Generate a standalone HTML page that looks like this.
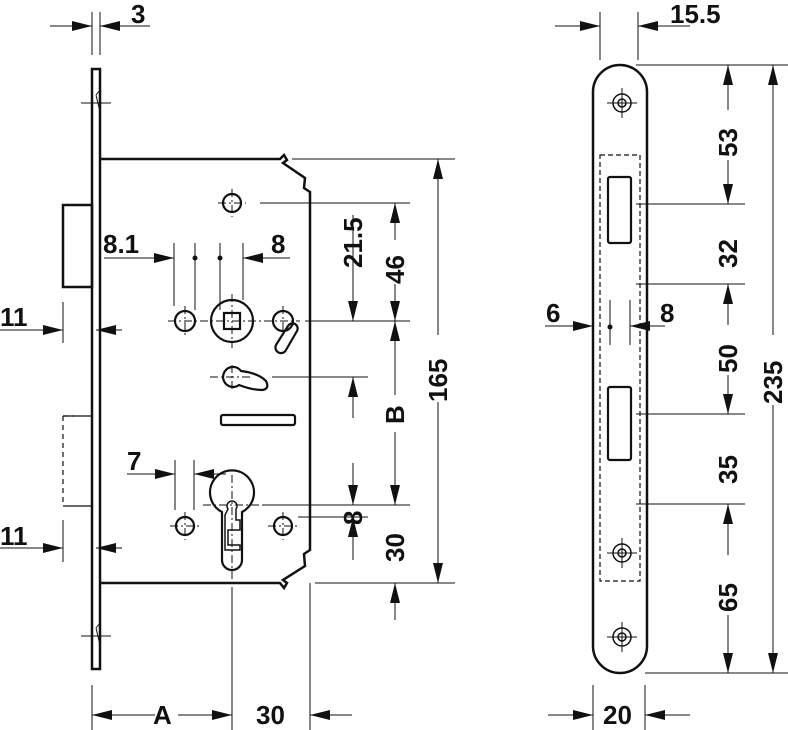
<!DOCTYPE html>
<html><head><meta charset="utf-8"><style>
html,body{margin:0;padding:0;background:#fff}
svg{display:block}
text{font-family:"Liberation Sans",sans-serif;font-weight:bold;font-size:26px;fill:#111}
</style></head><body>
<svg width="788" height="730" viewBox="0 0 788 730" xmlns="http://www.w3.org/2000/svg">
<defs>
<marker id="a" viewBox="0 0 20 10" refX="20" refY="5" markerWidth="20" markerHeight="10" markerUnits="userSpaceOnUse" orient="auto-start-reverse"><path d="M0,0 L20,5 L0,10 z" fill="#111"/></marker>
</defs>
<g stroke="#111" fill="none">
<rect x="92" y="69" width="8" height="600" stroke-width="2.5"/>
<path d="M81,103 H111 M81,636 H111" stroke-width="1"/>
<path d="M96,95 L100,90 M96,95 L100,112 M96,628 L100,623 M96,628 L100,645" stroke-width="1"/>
<rect x="63" y="205" width="29" height="82" stroke-width="2.5"/>
<path d="M100,159 H280 L284,155 L287,160 L283,163 L305,178 L304,188 L310,192 V550 L304,554 L305,566 L283,580 L287,583 L284,588 L280,583 H100" stroke-width="2.5"/>
<path d="M63,416 H92 M63,506 H92" stroke-width="1.2"/>
<path d="M63,416 V506 M63,416 H74" stroke-width="1.2" stroke-dasharray="5,4"/>
<g stroke-width="2.2">
<circle cx="232" cy="203" r="9"/>
<circle cx="185" cy="321" r="10"/>
<circle cx="283" cy="321" r="10"/>
<circle cx="232" cy="321" r="21"/>
<rect x="224" y="313" width="16" height="16"/>
<circle cx="185" cy="526" r="9"/>
<circle cx="283" cy="526" r="9"/>
<path d="M232,367 A10,10 0 1 0 239,385 Q252,390 262,390 Q270,389 266,381 Q258,373 241,371 A10,10 0 0 0 232,367 Z"/>
<path d="M276,345 L288,326 a5,5 0 0 1 9,5 L286,350 a5,5 0 0 1 -10,-5z"/>
<rect x="221" y="415" width="74" height="10" rx="2"/>
<path d="M222,512 a22,22 0 1 1 20,0 V560 a10,10 0 0 1 -20,0z"/>
<path d="M228,509 a5,5 0 1 1 8,0 V520 H240 V530 H228 V545 H240 V550 H225 V515z" stroke-width="1.5"/>
</g>
<g stroke-width="1" stroke-dasharray="8,3,2,3">
<path d="M218,203 H246 M232,189 V217"/>
<path d="M168,321 H300 M185,306 V336 M283,306 V336 M232,294 V348"/>
<path d="M210,377 H250 M232,365 V392"/>
<path d="M203,505 H262 M232,475 V600"/>
<path d="M170,526 H200 M185,512 V540 M268,526 H298 M283,512 V540"/>
</g>
<g stroke-width="1">
<path d="M92,12 V55 M100,12 V55"/>
<path d="M50,26 H92" marker-end="url(#a)"/><path d="M150,26 H100" marker-end="url(#a)"/>
<path d="M63,302 V343 M63,520 V562"/>
<path d="M0,330 H63" marker-end="url(#a)"/><path d="M122,330 H96" marker-end="url(#a)"/>
<path d="M0,548 H63" marker-end="url(#a)"/><path d="M122,548 H96" marker-end="url(#a)"/>
<path d="M174,243 V306 M195,243 V310 M220,243 V310 M243,243 V300"/>
<path d="M104,258 H174" marker-end="url(#a)"/><path d="M290,258 H243" marker-end="url(#a)"/>
<path d="M175,460 V510 M194,460 V510"/>
<path d="M127,474 H175" marker-end="url(#a)"/><path d="M226,474 H194" marker-end="url(#a)"/>
<path d="M292,159 H455 M260,203 H410 M305,321 H410 M272,377 H368 M262,505 H410 M298,517 H368 M315,583 H455"/>
<path d="M353,215 V321" marker-end="url(#a)"/>
<path d="M353,418 V377" marker-end="url(#a)"/>
<path d="M353,463 V505" marker-end="url(#a)"/>
<path d="M353,560 V517" marker-end="url(#a)"/>
<path d="M395,240 V203" marker-end="url(#a)"/><path d="M395,284 V321" marker-end="url(#a)"/>
<path d="M395,395 V321" marker-end="url(#a)"/><path d="M395,432 V505" marker-end="url(#a)"/>
<path d="M395,620 V583" marker-end="url(#a)"/>
<path d="M438,335 V159" marker-end="url(#a)"/><path d="M438,402 V583" marker-end="url(#a)"/>
<path d="M92,685 V730 M232,590 V730 M310,583 V730"/>
<path d="M155,715 H92" marker-end="url(#a)"/><path d="M178,715 H232" marker-end="url(#a)"/>
<path d="M352,715 H310" marker-end="url(#a)"/>
</g>
<circle cx="195" cy="258" r="2.5" fill="#111" stroke="none"/>
<circle cx="220" cy="258" r="2.5" fill="#111" stroke="none"/>

<rect x="593" y="65" width="54" height="608" rx="27" stroke-width="2.5"/>
<rect x="600" y="155" width="40" height="426" stroke-width="1.2" stroke-dasharray="5,3"/>
<rect x="608" y="177" width="23" height="66" rx="2" stroke-width="2.2"/>
<rect x="608" y="387" width="23" height="73" rx="2" stroke-width="2.2"/>
<g stroke-width="1.5">
<circle cx="622" cy="103" r="9"/><circle cx="622" cy="103" r="4"/>
<circle cx="622" cy="553" r="9"/><circle cx="622" cy="553" r="4"/>
<circle cx="622" cy="637" r="9"/><circle cx="622" cy="637" r="4"/>
</g>
<g stroke-width="1">
<path d="M607,103 H637 M622,88 V118 M607,553 H637 M622,538 V568 M607,637 H637 M622,622 V652"/>
<path d="M600,12 V60 M638,12 V60"/>
<path d="M555,26 H600" marker-end="url(#a)"/><path d="M690,26 H638" marker-end="url(#a)"/>
<path d="M610,300 V345 M630,300 V345"/>
<path d="M545,326 H593" marker-end="url(#a)"/><path d="M665,326 H630" marker-end="url(#a)"/>
<path d="M636,65 H788 M636,204 H745 M636,284 H745 M636,414 H745 M636,504 H745 M645,673 H788"/>
<path d="M728,110 V65" marker-end="url(#a)"/><path d="M728,160 V204" marker-end="url(#a)"/>
<path d="M728,325 V284" marker-end="url(#a)"/><path d="M728,375 V414" marker-end="url(#a)"/>
<path d="M728,555 V504" marker-end="url(#a)"/><path d="M728,615 V673" marker-end="url(#a)"/>
<path d="M773,335 V65" marker-end="url(#a)"/><path d="M773,405 V673" marker-end="url(#a)"/>
<path d="M593,685 V730 M645,685 V730"/>
<path d="M548,715 H593" marker-end="url(#a)"/><path d="M690,715 H645" marker-end="url(#a)"/>
</g>
<circle cx="610" cy="327" r="2.5" fill="#111" stroke="none"/>
</g>
<text x="131" y="23">3</text>
<text x="103" y="253">8.1</text>
<text x="271" y="253">8</text>
<text x="127" y="470">7</text>
<text x="0" y="326">11</text>
<text x="0" y="545">11</text>
<text x="153" y="724">A</text>
<text x="256" y="724">30</text>
<text x="603" y="724">20</text>
<text x="670" y="23">15.5</text>
<text x="546" y="322">6</text>
<text x="660" y="322">8</text>
<g>
<text transform="translate(362,268) rotate(-90)">21.5</text>
<text transform="translate(404,284) rotate(-90)">46</text>
<text transform="translate(404,424) rotate(-90)">B</text>
<text transform="translate(362,525) rotate(-90)">8</text>
<text transform="translate(404,562) rotate(-90)">30</text>
<text transform="translate(447,402) rotate(-90)">165</text>
<text transform="translate(737,157) rotate(-90)">53</text>
<text transform="translate(737,268) rotate(-90)">32</text>
<text transform="translate(737,373) rotate(-90)">50</text>
<text transform="translate(737,484) rotate(-90)">35</text>
<text transform="translate(737,612) rotate(-90)">65</text>
<text transform="translate(782,404) rotate(-90)">235</text>
</g>
</svg>
</body></html>
